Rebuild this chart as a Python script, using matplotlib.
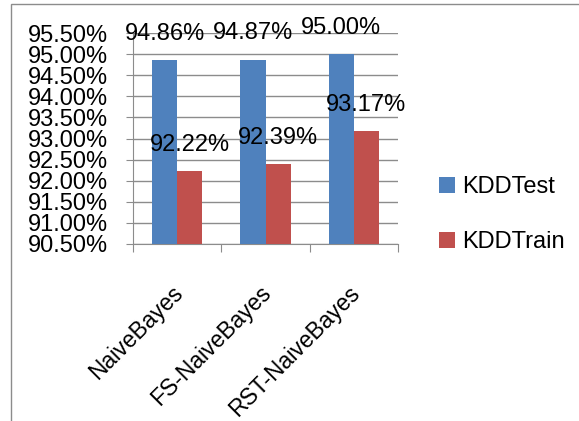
import numpy as np
import matplotlib
matplotlib.use('Agg')
import matplotlib.pyplot as plt
import matplotlib.transforms as mtransforms
from matplotlib.patches import Rectangle
from matplotlib.ticker import FuncFormatter

plt.rcParams['font.family'] = ['Liberation Sans', 'DejaVu Sans']

# data
categories = ['NaiveBayes', 'FS-NaiveBayes', 'RST-NaiveBayes']
kdd_test = [94.86, 94.87, 95.00]
kdd_train = [92.22, 92.39, 93.17]
series_names = ['KDDTest', 'KDDTrain']
colors = ['#4F81BD', '#C0504D']

fig = plt.figure(figsize=(5.79, 4.21), dpi=100)
ax = fig.add_axes([133 / 579, 177 / 421, 265 / 579, 211 / 421])

# outer chart frame (only left and top edges visible)
fig.add_artist(Rectangle((11 / 579, -0.2), 1.2, 1.2 - 4 / 421,
                         transform=fig.transFigure, fill=False,
                         edgecolor='#8c8c8c', linewidth=1.0, clip_on=False))

x = np.arange(len(categories))
w = 0.285
bars1 = ax.bar(x - w / 2, kdd_test, w, color=colors[0], label=series_names[0], zorder=3)
bars2 = ax.bar(x + w / 2, kdd_train, w, color=colors[1], label=series_names[1], zorder=3)

for bars in (bars1, bars2):
    for b in bars:
        v = b.get_height()
        ax.annotate('%.2f%%' % v, (b.get_x() + b.get_width() / 2, v),
                    xytext=(0, 19), textcoords='offset points',
                    ha='center', va='center', fontsize=17, zorder=5)

ax.set_ylim(90.5, 95.5)
ax.set_yticks(np.arange(90.5, 95.51, 0.5))
ax.yaxis.set_major_formatter(FuncFormatter(lambda v, p: '%.2f%%' % v))
ax.set_xlim(-0.5, 2.5)
ax.set_xticks([-0.5, 0.5, 1.5, 2.5])
ax.set_xticklabels([])
ax.set_xticks(x, minor=True)
ax.set_xticklabels(categories, minor=True, rotation=45, ha='right',
                   rotation_mode='anchor', fontsize=16.5)
ax.tick_params(axis='x', which='minor', length=0, pad=24)
ax.tick_params(axis='x', which='major', length=6, color='#8c8c8c')
ax.tick_params(axis='y', length=5, color='#8c8c8c', labelsize=17, pad=13)

shift = mtransforms.ScaledTranslation(-0.06, -0.04, fig.dpi_scale_trans)
for lab in ax.get_xticklabels(minor=True):
    lab.set_transform(lab.get_transform() + shift)

ax.grid(axis='y', color='#8c8c8c', linewidth=1.0, zorder=0)
ax.set_axisbelow(True)
for s in ['top', 'right']:
    ax.spines[s].set_visible(False)
for s in ['left', 'bottom']:
    ax.spines[s].set_color('#8c8c8c')

ax.legend(loc='center left', bbox_to_anchor=(1.12, 0.14), frameon=False,
          fontsize=17, handlelength=0.65, handleheight=0.65, handletextpad=0.3,
          labelspacing=1.4, borderaxespad=0)

fig.savefig('out.png', dpi=100)
